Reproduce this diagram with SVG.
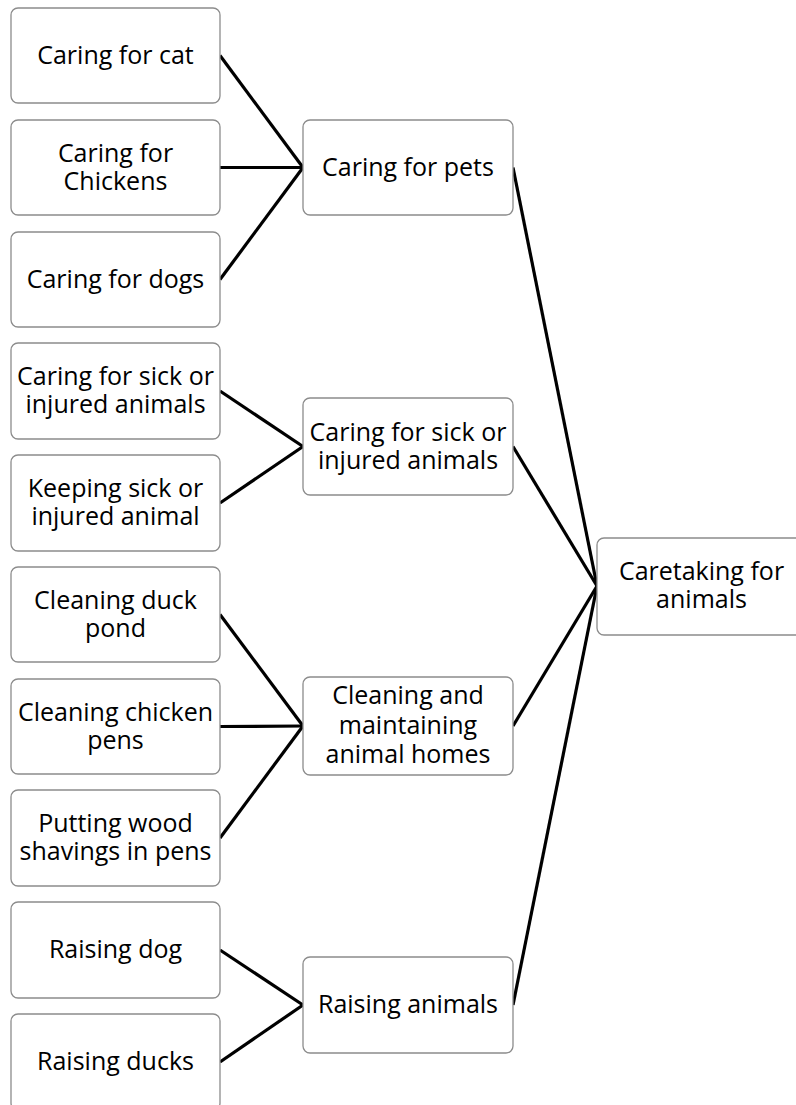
<svg xmlns="http://www.w3.org/2000/svg" width="796" height="1105" viewBox="0 0 796 1105">
<style>
.box{fill:#fff;stroke:#8c8c8c;stroke-width:1.3}
.t{font-family:"Open Sans",Lato,"Liberation Sans",sans-serif;font-size:25px;fill:#000;text-anchor:middle}
.c{stroke:#000;stroke-width:3.2;fill:none}
</style>
<rect width="796" height="1105" fill="#fff"/>
<g id="connectors">
<line class="c" x1="220" y1="55.5" x2="303" y2="167.5"/>
<line class="c" x1="220" y1="167.5" x2="303" y2="167.5"/>
<line class="c" x1="220" y1="279.5" x2="303" y2="167.5"/>
<line class="c" x1="220" y1="391" x2="303" y2="446.5"/>
<line class="c" x1="220" y1="503" x2="303" y2="446.5"/>
<line class="c" x1="220" y1="614.5" x2="303" y2="726"/>
<line class="c" x1="220" y1="726.5" x2="303" y2="726"/>
<line class="c" x1="220" y1="838" x2="303" y2="726"/>
<line class="c" x1="220" y1="950" x2="303" y2="1005"/>
<line class="c" x1="220" y1="1062" x2="303" y2="1005"/>
<line class="c" x1="513" y1="167.5" x2="597" y2="586"/>
<line class="c" x1="513" y1="446.5" x2="597" y2="586"/>
<line class="c" x1="513" y1="726" x2="597" y2="586"/>
<line class="c" x1="513" y1="1005" x2="597" y2="586"/>
</g>
<g id="n1"><rect class="box" x="11" y="8" width="209" height="95" rx="7"/><text class="t" x="115.5" y="63.5">Caring for cat</text></g>
<g id="n2"><rect class="box" x="11" y="120" width="209" height="95" rx="7"/><text class="t" x="115.5" y="161.5">Caring for</text><text class="t" x="115.5" y="189.5">Chickens</text></g>
<g id="n3"><rect class="box" x="11" y="232" width="209" height="95" rx="7"/><text class="t" x="115.5" y="287.5">Caring for dogs</text></g>
<g id="n4"><rect class="box" x="11" y="343" width="209" height="96" rx="7"/><text class="t" x="115.5" y="385">Caring for sick or</text><text class="t" x="115.5" y="413">injured animals</text></g>
<g id="n5"><rect class="box" x="11" y="455" width="209" height="96" rx="7"/><text class="t" x="115.5" y="497">Keeping sick or</text><text class="t" x="115.5" y="525">injured animal</text></g>
<g id="n6"><rect class="box" x="11" y="567" width="209" height="95" rx="7"/><text class="t" x="115.5" y="608.5">Cleaning duck</text><text class="t" x="115.5" y="636.5">pond</text></g>
<g id="n7"><rect class="box" x="11" y="679" width="209" height="95" rx="7"/><text class="t" x="115.5" y="720.5">Cleaning chicken</text><text class="t" x="115.5" y="748.5">pens</text></g>
<g id="n8"><rect class="box" x="11" y="790" width="209" height="96" rx="7"/><text class="t" x="115.5" y="832">Putting wood</text><text class="t" x="115.5" y="860">shavings in pens</text></g>
<g id="n9"><rect class="box" x="11" y="902" width="209" height="96" rx="7"/><text class="t" x="115.5" y="958">Raising dog</text></g>
<g id="n10"><rect class="box" x="11" y="1014" width="209" height="96" rx="7"/><text class="t" x="115.5" y="1070">Raising ducks</text></g>
<g id="m1"><rect class="box" x="303" y="120" width="210" height="95" rx="7"/><text class="t" x="408" y="175.5">Caring for pets</text></g>
<g id="m2"><rect class="box" x="303" y="398" width="210" height="97" rx="7"/><text class="t" x="408" y="440.5">Caring for sick or</text><text class="t" x="408" y="468.5">injured animals</text></g>
<g id="m3"><rect class="box" x="303" y="677" width="210" height="98" rx="7"/><text class="t" x="408" y="704">Cleaning and</text><text class="t" x="408" y="733.5">maintaining</text><text class="t" x="408" y="763">animal homes</text></g>
<g id="m4"><rect class="box" x="303" y="957" width="210" height="96" rx="7"/><text class="t" x="408" y="1013">Raising animals</text></g>
<g id="root"><rect class="box" x="597" y="538" width="210" height="97" rx="7"/><text class="t" x="701.5" y="580">Caretaking for</text><text class="t" x="701.5" y="608">animals</text></g>
</svg>
